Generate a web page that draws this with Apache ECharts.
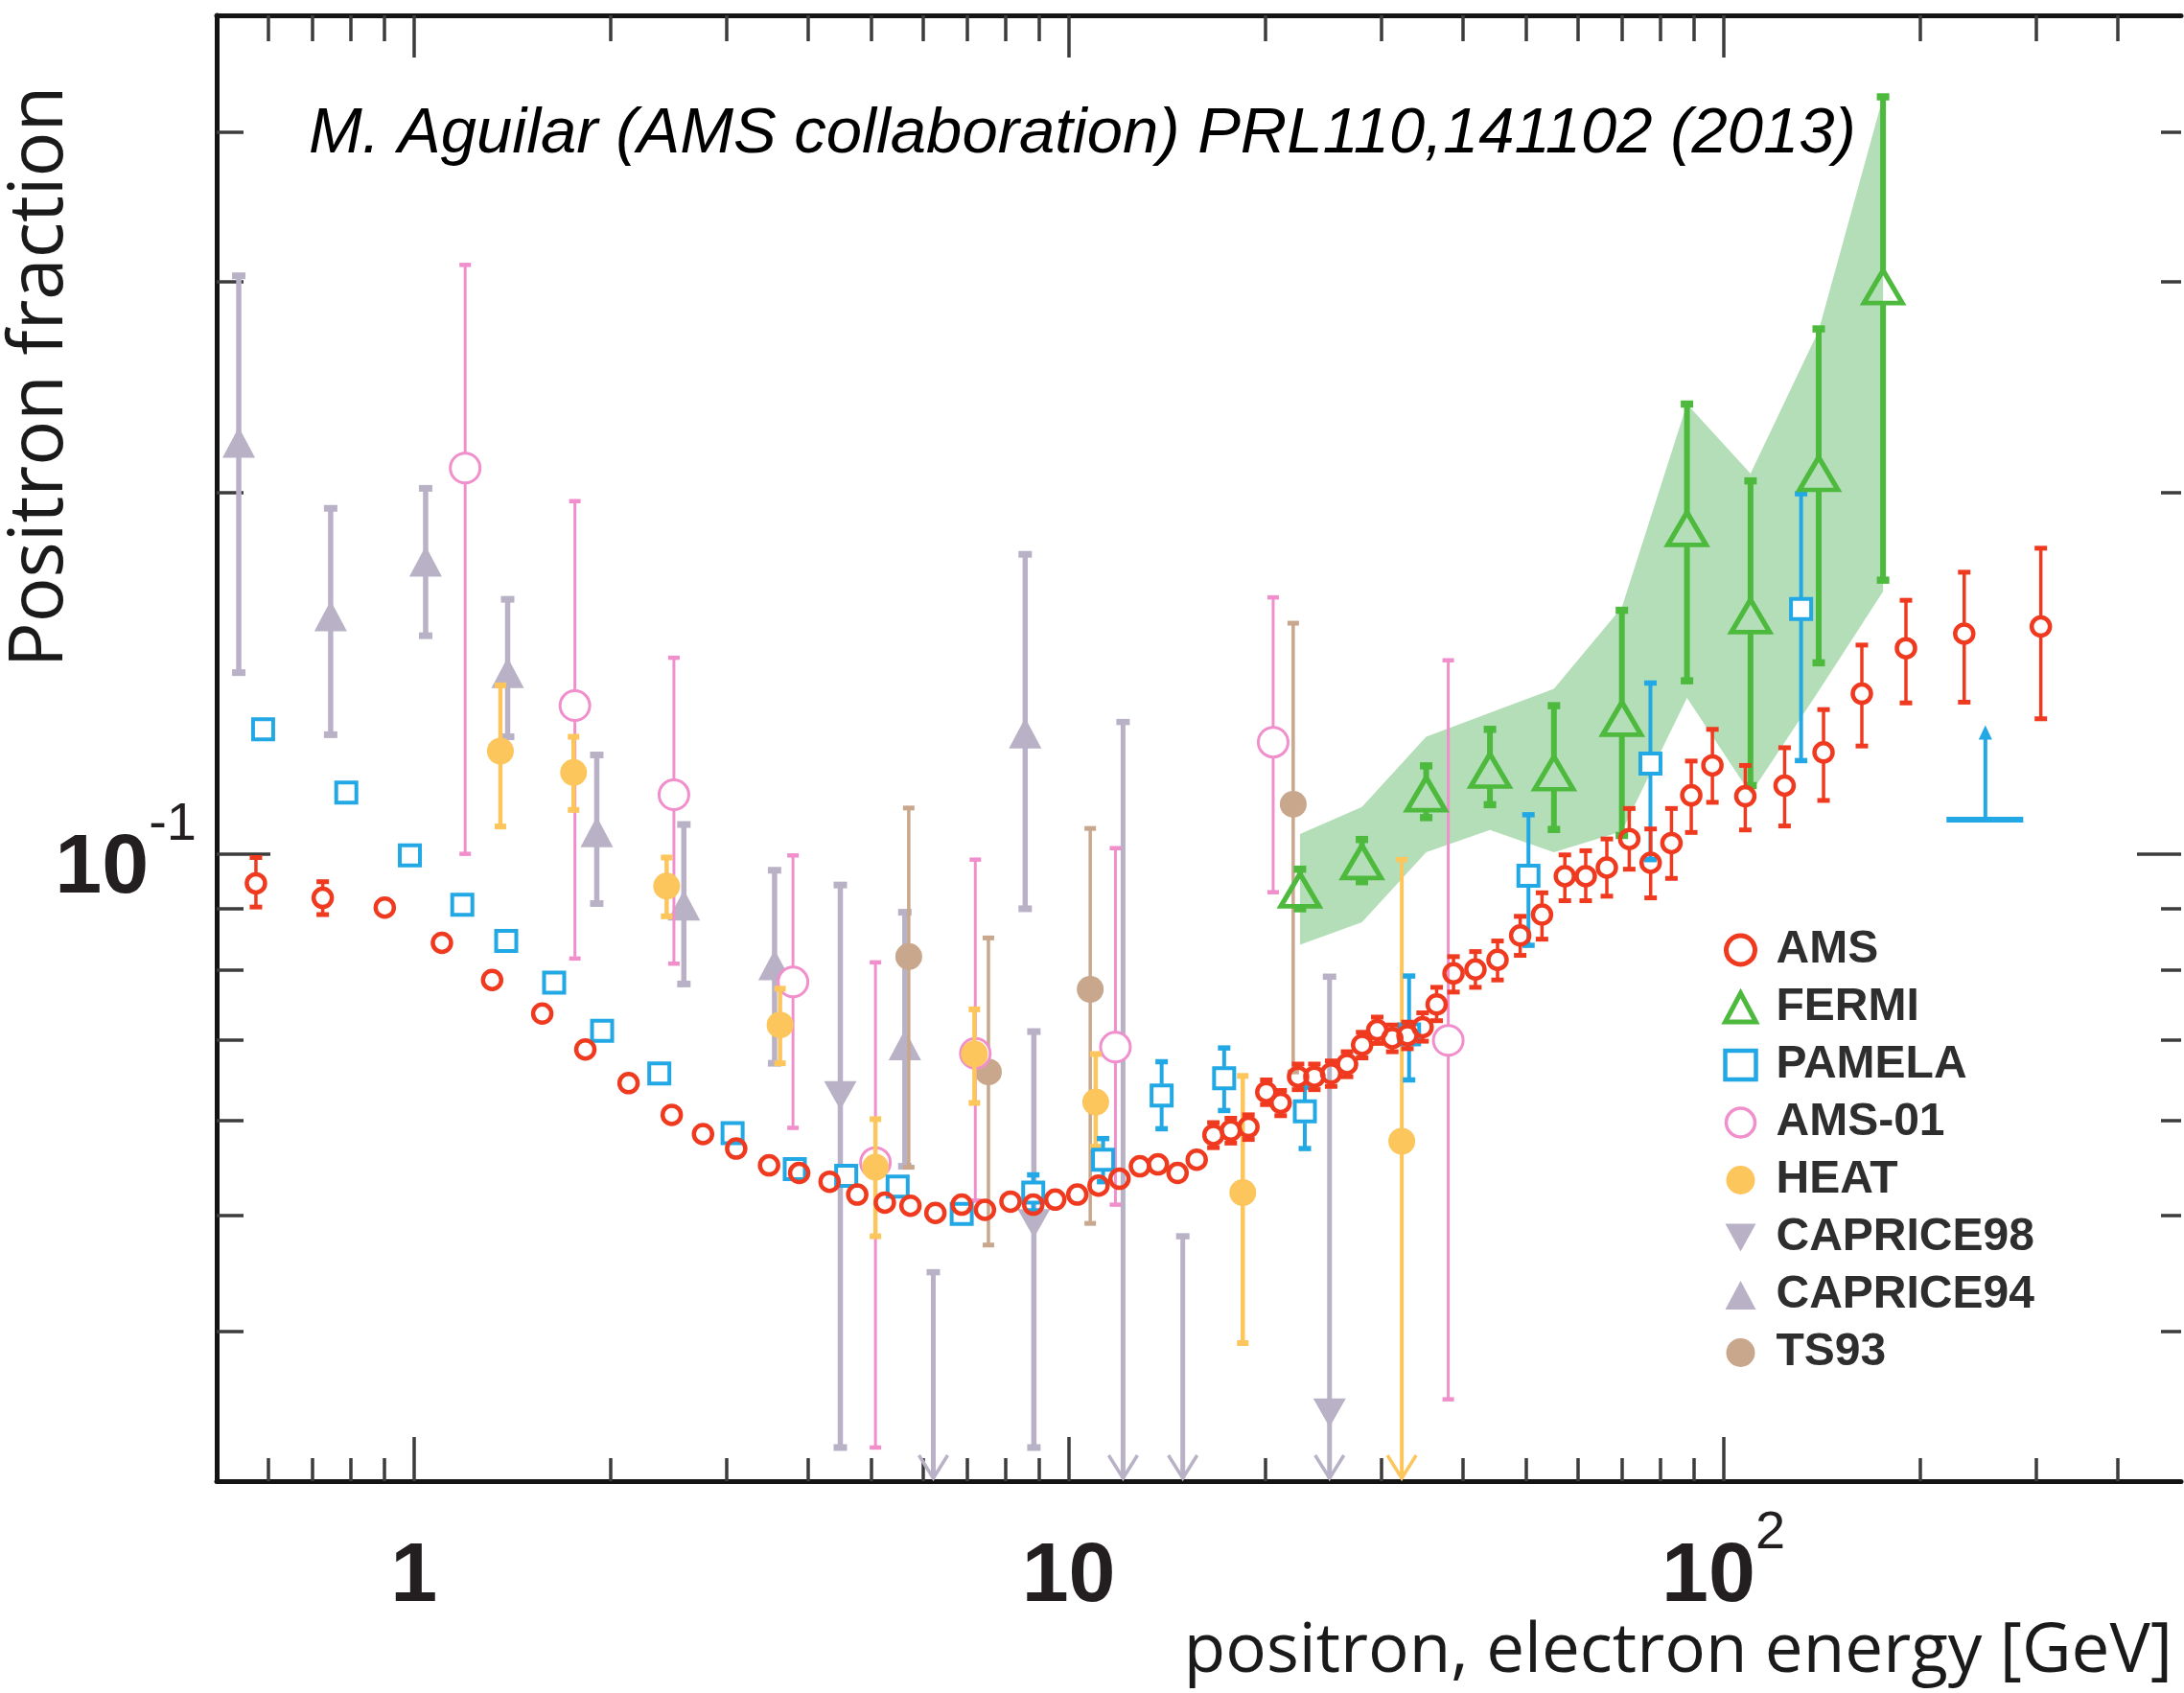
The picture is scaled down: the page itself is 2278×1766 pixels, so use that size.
<!DOCTYPE html>
<html>
<head>
<meta charset="utf-8">
<title>Positron fraction</title>
<script src="https://cdn.jsdelivr.net/npm/echarts@6/dist/echarts.min.js"></script>
<style>
  html, body { margin: 0; padding: 0; background: #fff; }
  #chart { width: 2278px; height: 1766px; }
</style>
</head>
<body>
<div id="chart"></div>
<script>
// axis ticks
const xMinor = [0.6, 0.7, 0.8, 0.9, 2, 3, 4, 5, 6, 7, 8, 9, 20, 30, 40, 50, 60, 70, 80, 90, 200, 300, 400];
const xMajor = [1, 10, 100];
const xMajorBase = ['1', '10', '10'];
const xMajorExp = ['', '', '2'];
const yMinor = [0.04, 0.05, 0.06, 0.07, 0.08, 0.09, 0.2, 0.3, 0.4];
const yMajor = [0.1];
const yMajorBase = ['10'];
const yMajorExp = ['-1'];

// AMS
const amsE = [0.574, 0.726, 0.903, 1.104, 1.317, 1.571, 1.828, 2.128, 2.477, 2.765, 3.107, 3.488, 3.877, 4.315, 4.756, 5.240, 5.734, 6.260, 6.867, 7.451, 8.152, 8.831, 9.541, 10.31, 11.11, 11.96, 12.85, 13.69, 14.67, 15.69, 16.64, 17.69, 18.82, 20.04, 21.08, 22.41, 23.73, 25.17, 26.62, 28.07, 29.60, 31.21, 32.92, 34.72, 36.48, 38.71, 41.81, 45.19, 48.93, 52.84, 57.26, 61.62, 66.37, 71.81, 77.42, 83.30, 89.31, 96.2, 108.0, 124.0, 142.2, 162.7, 190.0, 233.2, 305.3];
const amsF = [0.0945, 0.0919, 0.0902, 0.0843, 0.0785, 0.0736, 0.0687, 0.0644, 0.0606, 0.0584, 0.0568, 0.0550, 0.0542, 0.0533, 0.0520, 0.0512, 0.0509, 0.0502, 0.0510, 0.0505, 0.0513, 0.0510, 0.0515, 0.0520, 0.0529, 0.0536, 0.0549, 0.0551, 0.0542, 0.0556, 0.0583, 0.0588, 0.0592, 0.0633, 0.0620, 0.0652, 0.0652, 0.0656, 0.0668, 0.0693, 0.0713, 0.0702, 0.0706, 0.0717, 0.0749, 0.0795, 0.0801, 0.0816, 0.0855, 0.0890, 0.0958, 0.0958, 0.0974, 0.1029, 0.0983, 0.1021, 0.1119, 0.1185, 0.1117, 0.1140, 0.1215, 0.1360, 0.1484, 0.1526, 0.1547];
const amsLo = [0.0903, 0.0890, 0.0888, 0.0831, 0.0774, 0.0726, 0.0678, 0.0635, 0.0598, 0.0576, 0.0560, 0.0542, 0.0534, 0.0525, 0.0512, 0.0505, 0.0502, 0.0495, 0.0503, 0.0498, 0.0506, 0.0503, 0.0508, 0.0513, 0.0521, 0.0528, 0.0541, 0.0543, 0.0534, 0.0548, 0.0569, 0.0574, 0.0578, 0.0618, 0.0605, 0.0636, 0.0636, 0.0640, 0.0652, 0.0676, 0.0695, 0.0684, 0.0688, 0.0698, 0.0726, 0.0767, 0.0774, 0.0785, 0.0823, 0.0849, 0.0914, 0.0914, 0.0922, 0.0971, 0.0919, 0.0954, 0.1042, 0.1104, 0.1047, 0.1055, 0.1108, 0.1230, 0.1336, 0.1338, 0.1296];
const amsHi = [0.0993, 0.0948, 0.0916, 0.0855, 0.0796, 0.0746, 0.0696, 0.0653, 0.0614, 0.0592, 0.0576, 0.0558, 0.0550, 0.0541, 0.0528, 0.0519, 0.0516, 0.0509, 0.0517, 0.0512, 0.0520, 0.0517, 0.0522, 0.0527, 0.0537, 0.0544, 0.0557, 0.0559, 0.0550, 0.0564, 0.0597, 0.0602, 0.0606, 0.0648, 0.0635, 0.0668, 0.0668, 0.0672, 0.0684, 0.0710, 0.0731, 0.0720, 0.0724, 0.0737, 0.0774, 0.0821, 0.0829, 0.0846, 0.0887, 0.0928, 0.0998, 0.1006, 0.1029, 0.1091, 0.1049, 0.1091, 0.1195, 0.1270, 0.1185, 0.1226, 0.1319, 0.1493, 0.1627, 0.1717, 0.1798];

// FERMI (points and systematic band)
const fermiE = [22.56, 28.05, 35.16, 44.0, 55.1, 69.97, 87.97, 110.0, 139.8, 175.3];
const fermiF = [0.0933, 0.0985, 0.1122, 0.1174, 0.1168, 0.1297, 0.1867, 0.1579, 0.2075, 0.2970];
const fermiLo = [0.0900, 0.0948, 0.1072, 0.1099, 0.1048, 0.1036, 0.1394, 0.1140, 0.1443, 0.1691];
const fermiHi = [0.0971, 0.1028, 0.1184, 0.1270, 0.1329, 0.1596, 0.2371, 0.2046, 0.2739, 0.4276];
const bandLo = [0.0840, 0.0877, 0.1003, 0.1047, 0.1003, 0.1044, 0.1349, 0.1122, 0.1367, 0.1655];
const bandHi = [0.1039, 0.1094, 0.1252, 0.1311, 0.1373, 0.1605, 0.2371, 0.2075, 0.2730, 0.4276];

// PAMELA
const pamE = [0.5887, 0.7887, 0.9864, 1.186, 1.384, 1.638, 1.939, 2.371, 3.068, 3.818, 4.575, 5.482, 6.867, 8.831, 11.29, 13.87, 17.28, 22.95, 33.11, 50.38, 77.36, 131.4];
const pamF = [0.1270, 0.1125, 0.0997, 0.0907, 0.0846, 0.0781, 0.0712, 0.0656, 0.0585, 0.0546, 0.0539, 0.0528, 0.0501, 0.0522, 0.0556, 0.0629, 0.0650, 0.0610, 0.0707, 0.0959, 0.1189, 0.1600];
const pamLo = [0.1251, 0.1108, 0.0982, 0.0893, 0.0833, 0.0769, 0.0701, 0.0646, 0.0576, 0.0538, 0.0531, 0.0520, 0.0493, 0.0504, 0.0533, 0.0590, 0.0611, 0.0568, 0.0648, 0.0839, 0.0989, 0.1196];
const pamHi = [0.1289, 0.1142, 0.1012, 0.0921, 0.0859, 0.0793, 0.0723, 0.0666, 0.0594, 0.0554, 0.0547, 0.0536, 0.0509, 0.0540, 0.0579, 0.0671, 0.0689, 0.0639, 0.0791, 0.1078, 0.1388, 0.1996];
const pamLimE = [251.2];
const pamLimF = [0.1068];
const pamLimFrom = [219.1];
const pamLimTo = [287.0];
const pamLimArrow = [0.128];

// AMS-01
const ams01E = [1.198, 1.762, 2.496, 3.794, 5.070, 7.203, 11.79, 20.53, 38.0];
const ams01F = [0.2097, 0.1329, 0.1120, 0.0782, 0.0553, 0.0682, 0.0690, 0.1239, 0.0699];
const ams01Lo = [0.1000, 0.0818, 0.0810, 0.0591, 0.0320, 0.0514, 0.0510, 0.0929, 0.0351];
const ams01Hi = [0.3097, 0.1968, 0.1457, 0.0997, 0.0812, 0.0989, 0.1011, 0.1636, 0.1450];

// HEAT
const heatE = [1.356, 1.754, 2.433, 3.625, 5.070, 7.181, 11.0, 18.45, 32.27];
const heatF = [0.1218, 0.1169, 0.0940, 0.0720, 0.0548, 0.0681, 0.0621, 0.0522, 0.0576];
const heatLo = [0.1054, 0.1088, 0.0887, 0.0669, 0.0480, 0.0620, 0.0570, 0.0391];
const heatHi = [0.1382, 0.1252, 0.0993, 0.0772, 0.0601, 0.0742, 0.0681, 0.0653];
const heatLimE = [32.27];
const heatLimTop = [0.0989];

// CAPRICE98
const c98E = [4.481, 8.851, 25.03];
const c98F = [0.0629, 0.0492, 0.0342];
const c98Lo = [0.0320, 0.0320];
const c98Hi = [0.0942, 0.0711];
const c98LimE = [6.214, 12.11, 14.94, 25.03];
const c98LimTop = [0.0448, 0.1288, 0.0480, 0.0790];

// CAPRICE94
const c94E = [0.5404, 0.7465, 1.0425, 1.391, 1.903, 2.585, 3.556, 5.622, 8.584];
const c94F = [0.2203, 0.1579, 0.1753, 0.1416, 0.1043, 0.0906, 0.0808, 0.0693, 0.1261];
const c94Lo = [0.1416, 0.1257, 0.1520, 0.1252, 0.0909, 0.0779, 0.0669, 0.0549, 0.0900];
const c94Hi = [0.3033, 0.1941, 0.2017, 0.1630, 0.1209, 0.1058, 0.0969, 0.0894, 0.1777];

// TS93
const ts93E = [5.700, 7.543, 10.79, 22.03];
const ts93F = [0.0821, 0.0658, 0.0771, 0.1100];
const ts93Lo = [0.0548, 0.0472, 0.0492, 0.0658];
const ts93Hi = [0.1092, 0.0851, 0.1050, 0.1557];

const C = {
    ams: '#f03a1f',
    fermi: '#4dba3e',
    band: 'rgba(86,181,98,0.45)',
    pamela: '#22a8e4',
    ams01: '#f18fcc',
    heat: '#fcc65c',
    caprice: '#b9b2c7',
    ts93: '#c9a78c'
};
const downTri = 'path://M0,0L10,0L5,9Z';

const chart = echarts.init(document.getElementById('chart'));

function powLabel(vals, base, exp) {
    return function (v) {
        const i = vals.findIndex(t => Math.abs(t - v) < t * 1e-6);
        if (i < 0) return '';
        return '{b|' + base[i] + '}' + (exp[i] ? '{s|' + exp[i] + '}' : '');
    };
}

const labelRich = {
    b: { fontFamily: 'Liberation Sans', fontWeight: 'bold', fontSize: 88, lineHeight: 118, verticalAlign: 'bottom', color: '#231f20' },
    s: { fontFamily: 'Liberation Sans', fontWeight: 'normal', fontSize: 56, lineHeight: 56, verticalAlign: 'top', color: '#231f20' }
};

function logAxis(gridIndex, position, min, max, ticks, tickLen, showLine, label) {
    return {
        type: 'log', logBase: 10, gridIndex: gridIndex, position: position, min: min, max: max,
        axisLine: { show: showLine, lineStyle: { color: '#141414', width: 5 } },
        axisTick: { show: true, inside: true, length: tickLen, customValues: ticks,
            lineStyle: { color: '#3c3c3c', width: 3.5 } },
        axisLabel: label || { show: false },
        splitLine: { show: false },
        minorTick: { show: false },
        minorSplitLine: { show: false }
    };
}

function markers(name, e, f, symbol, size, fill, stroke, bw, z) {
    return {
        name: name, type: 'scatter', z: z, silent: true,
        symbol: symbol, symbolSize: size,
        itemStyle: { color: fill, borderColor: stroke, borderWidth: bw, opacity: 1 },
        data: e.map((x, i) => [x, f[i]])
    };
}

function errorBars(name, e, f, lo, hi, color, width, cap, gap, z) {
    return {
        name: name, type: 'custom', z: z, silent: true,
        data: lo.map((l, i) => [e[i], f[i], l, hi[i]]),
        renderItem: function (params, api) {
            const x = api.value(0);
            const c = api.coord([x, api.value(1)]);
            const b = api.coord([x, api.value(2)]);
            const t = api.coord([x, api.value(3)]);
            const st = { stroke: color, lineWidth: width };
            const cs = { stroke: color, lineWidth: width + 1.5 };
            const kids = [];
            if (t[1] < c[1] - gap) {
                kids.push({ type: 'line', shape: { x1: c[0], y1: t[1], x2: c[0], y2: c[1] - gap }, style: st });
                kids.push({ type: 'line', shape: { x1: c[0] - cap / 2, y1: t[1], x2: c[0] + cap / 2, y2: t[1] }, style: cs });
            }
            if (b[1] > c[1] + gap) {
                kids.push({ type: 'line', shape: { x1: c[0], y1: c[1] + gap, x2: c[0], y2: b[1] }, style: st });
                kids.push({ type: 'line', shape: { x1: c[0] - cap / 2, y1: b[1], x2: c[0] + cap / 2, y2: b[1] }, style: cs });
            }
            return { type: 'group', children: kids };
        }
    };
}

// bars that run down to the axis, ending in an open arrow head
function upperLimits(name, e, top, color, width, cap, z) {
    return {
        name: name, type: 'custom', z: z, silent: true,
        data: e.map((x, i) => [x, top[i]]),
        renderItem: function (params, api) {
            const t = api.coord([api.value(0), api.value(1)]);
            const yb = params.coordSys.y + params.coordSys.height - 3;
            const x = t[0];
            return {
                type: 'group',
                children: [
                    { type: 'line', shape: { x1: x, y1: t[1], x2: x, y2: yb }, style: { stroke: color, lineWidth: width } },
                    { type: 'line', shape: { x1: x - cap / 2, y1: t[1], x2: x + cap / 2, y2: t[1] }, style: { stroke: color, lineWidth: width + 1.5 } },
                    { type: 'polyline', shape: { points: [[x - 15, yb - 24], [x, yb], [x + 15, yb - 24]] },
                        style: { stroke: color, lineWidth: 3.5, fill: null } }
                ]
            };
        }
    };
}

const series = [
    {
        name: 'FERMI band', type: 'custom', z: 1, silent: true,
        data: fermiE.map((x, i) => [x, bandLo[i], bandHi[i]]),
        encode: { x: 0, y: [1, 2] },
        renderItem: function (params, api) {
            if (params.dataIndexInside !== 0) return;
            const up = fermiE.map((x, i) => api.coord([x, bandHi[i]]));
            const dn = fermiE.map((x, i) => api.coord([x, bandLo[i]])).reverse();
            return { type: 'polygon', shape: { points: up.concat(dn) }, style: { fill: C.band } };
        }
    },
    errorBars('CAPRICE94 bars', c94E, c94F, c94Lo, c94Hi, C.caprice, 5.5, 14, 0, 2),
    errorBars('CAPRICE98 bars', c98E, c98F, c98Lo, c98Hi, C.caprice, 5.5, 14, 0, 2),
    upperLimits('CAPRICE98 limits', c98LimE, c98LimTop, C.caprice, 5, 14, 2),
    errorBars('TS93 bars', ts93E, ts93F, ts93Lo, ts93Hi, C.ts93, 3.5, 12, 0, 3),
    errorBars('AMS-01 bars', ams01E, ams01F, ams01Lo, ams01Hi, C.ams01, 3, 12, 16, 4),
    errorBars('HEAT bars', heatE, heatF, heatLo, heatHi, C.heat, 4.5, 12, 0, 5),
    upperLimits('HEAT limits', heatLimE, heatLimTop, C.heat, 4, 12, 5),
    errorBars('PAMELA bars', pamE, pamF, pamLo, pamHi, C.pamela, 4, 13, 12, 6),
    {
        name: 'PAMELA limit', type: 'custom', z: 6, silent: true,
        data: pamLimE.map((x, i) => [x, pamLimF[i], pamLimFrom[i], pamLimTo[i], pamLimArrow[i]]),
        renderItem: function (params, api) {
            const y = api.value(1);
            const a = api.coord([api.value(2), y]);
            const b = api.coord([api.value(3), y]);
            const c = api.coord([api.value(0), y]);
            const t = api.coord([api.value(0), api.value(4)]);
            return {
                type: 'group',
                children: [
                    { type: 'line', shape: { x1: a[0], y1: a[1], x2: b[0], y2: b[1] }, style: { stroke: C.pamela, lineWidth: 6 } },
                    { type: 'line', shape: { x1: c[0], y1: c[1], x2: c[0], y2: t[1] + 12 }, style: { stroke: C.pamela, lineWidth: 4 } },
                    { type: 'polygon', shape: { points: [[c[0] - 7, t[1] + 15], [c[0], t[1]], [c[0] + 7, t[1] + 15]] }, style: { fill: C.pamela } }
                ]
            };
        }
    },
    errorBars('FERMI bars', fermiE, fermiF, fermiLo, fermiHi, C.fermi, 6, 13, 16, 7),
    errorBars('AMS bars', amsE, amsF, amsLo, amsHi, C.ams, 3.5, 13, 11, 8),

    markers('CAPRICE94', c94E, c94F, 'triangle', [34, 32], C.caprice, C.caprice, 0, 2),
    markers('CAPRICE98', c98E, c98F, downTri, [34, 30], C.caprice, C.caprice, 0, 2),
    markers('TS93', ts93E, ts93F, 'circle', 28, C.ts93, C.ts93, 0, 3),
    markers('AMS-01', ams01E, ams01F, 'circle', 31, '#ffffff', C.ams01, 3, 4),
    markers('HEAT', heatE, heatF, 'circle', 28, C.heat, C.heat, 0, 5),
    markers('PAMELA', pamE, pamF, 'rect', 21, '#ffffff', C.pamela, 4, 6),
    markers('FERMI', fermiE, fermiF, 'triangle', [40, 34], 'rgba(0,0,0,0)', C.fermi, 5, 7),
    markers('AMS', amsE, amsF, 'circle', 19, 'rgba(0,0,0,0)', C.ams, 4.5, 8)
];

const option = {
    animation: false,
    backgroundColor: '#ffffff',
    textStyle: { fontFamily: 'Liberation Sans' },
    grid: [
        { left: 226, right: 3, top: 16, bottom: 221 },
        { left: 226, right: 3, top: 16, bottom: 221 }
    ],
    xAxis: [
        logAxis(0, 'bottom', 0.5, 500, xMinor, 24, true, {
            show: true, customValues: xMajor, margin: 27,
            formatter: powLabel(xMajor, xMajorBase, xMajorExp), rich: labelRich
        }),
        logAxis(0, 'top', 0.5, 500, xMinor, 27, true),
        logAxis(1, 'bottom', 0.5, 500, xMajor, 46, false),
        logAxis(1, 'top', 0.5, 500, xMajor, 44, false)
    ],
    yAxis: [
        logAxis(0, 'left', 0.03, 0.5, yMinor, 28, true, {
            show: true, customValues: yMajor, margin: 21, padding: [2, 0, 0, 0],
            formatter: powLabel(yMajor, yMajorBase, yMajorExp), rich: labelRich
        }),
        logAxis(0, 'right', 0.03, 0.5, yMinor, 21, false),
        logAxis(1, 'left', 0.03, 0.5, yMajor, 56, false),
        logAxis(1, 'right', 0.03, 0.5, yMajor, 46, false)
    ],
    legend: {
        orient: 'vertical', left: 1792, top: 962, itemWidth: 32, itemHeight: 30, itemGap: 12,
        selectedMode: false,
        textStyle: { fontFamily: 'Liberation Sans', fontWeight: 'bold', fontSize: 48, color: '#2e2e2e', padding: [0, 0, 0, 16] },
        data: [
            { name: 'AMS', icon: 'circle', itemStyle: { color: 'rgba(0,0,0,0)', borderColor: C.ams, borderWidth: 5 } },
            { name: 'FERMI', icon: 'triangle', itemStyle: { color: 'rgba(0,0,0,0)', borderColor: C.fermi, borderWidth: 5 } },
            { name: 'PAMELA', icon: 'rect', itemStyle: { color: '#ffffff', borderColor: C.pamela, borderWidth: 4.5 } },
            { name: 'AMS-01', icon: 'circle', itemStyle: { color: '#ffffff', borderColor: C.ams01, borderWidth: 3.5 } },
            { name: 'HEAT', icon: 'circle', itemStyle: { color: C.heat, borderWidth: 0 } },
            { name: 'CAPRICE98', icon: downTri, itemStyle: { color: C.caprice, borderWidth: 0 } },
            { name: 'CAPRICE94', icon: 'triangle', itemStyle: { color: C.caprice, borderWidth: 0 } },
            { name: 'TS93', icon: 'circle', itemStyle: { color: C.ts93, borderWidth: 0 } }
        ]
    },
    graphic: [
        {
            type: 'text', x: 322, y: 140, z: 20,
            style: { text: 'M. Aguilar (AMS collaboration) PRL110,141102 (2013)', font: 'italic 67px "Liberation Sans"',
                fill: '#000000', align: 'left', verticalAlign: 'middle' }
        },
        {
            type: 'text', x: 43, y: 393, rotation: Math.PI / 2, z: 20,
            style: { text: 'Positron fraction', font: '78px "Open Sans"', fill: '#1a1a1a', align: 'center', verticalAlign: 'middle' }
        },
        {
            type: 'text', x: 2266, y: 1724, z: 20,
            style: { text: 'positron, electron energy [GeV]', font: '71px "Open Sans"', fill: '#1a1a1a', align: 'right', verticalAlign: 'middle' }
        }
    ],
    series: series
};

chart.setOption(option);

window.addEventListener('resize', function () {
    chart.resize();
});
</script>
</body>
</html>
